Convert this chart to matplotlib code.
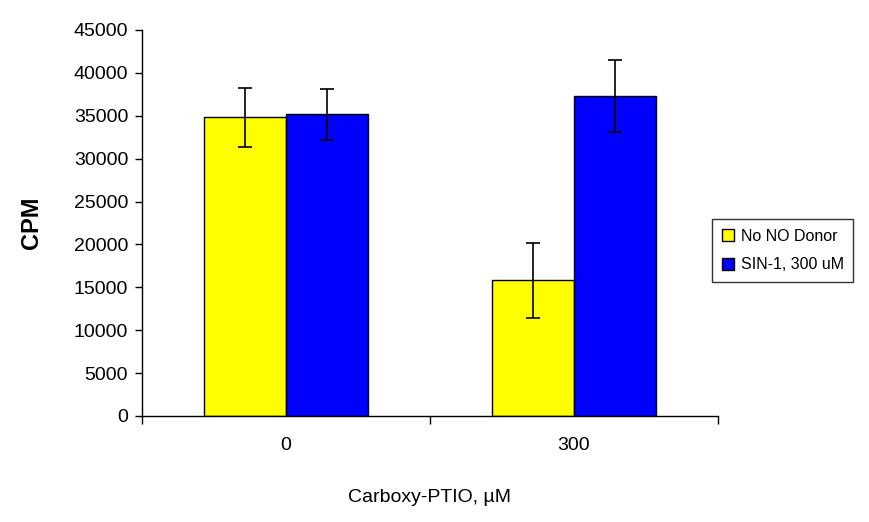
import matplotlib.pyplot as plt
import numpy as np

plt.rcParams['font.family'] = ['Liberation Sans', 'DejaVu Sans']

categories = ["0", "300"]
series_names = ["No NO Donor", "SIN-1, 300 uM"]
no_donor = [34800, 15800]
no_donor_err = [3450, 4350]
sin1 = [35150, 37300]
sin1_err = [2950, 4200]
colors = ["#ffff00", "#0000ff"]

fig = plt.figure(figsize=(8.69, 5.22), dpi=100)
ax = fig.add_axes([142 / 869, 1 - 416 / 522, (718 - 142) / 869, (416 - 30) / 522])

x = np.arange(len(categories))
w = 0.285
ax.bar(x - w / 2, no_donor, w, color=colors[0], edgecolor="black", linewidth=1,
       yerr=no_donor_err, capsize=5, error_kw=dict(elinewidth=1.2, capthick=1.2),
       label=series_names[0])
ax.bar(x + w / 2, sin1, w, color=colors[1], edgecolor="black", linewidth=1,
       yerr=sin1_err, capsize=5, error_kw=dict(elinewidth=1.2, capthick=1.2),
       label=series_names[1])

ax.set_xlim(-0.5, 1.5)
ax.set_ylim(0, 45000)
ax.set_yticks(np.arange(0, 45001, 5000))
ax.tick_params(axis="y", labelsize=14, length=5, width=1, pad=5)

# ticks between categories, labels at centers
ax.set_xticks([-0.5, 0.5, 1.5])
ax.set_xticklabels([])
ax.tick_params(axis="x", which="major", length=6, width=1)
ax.set_xticks(x, minor=True)
ax.set_xticklabels(categories, minor=True)
ax.tick_params(axis="x", which="minor", length=0, labelsize=14, pad=15)

for s in ["top", "right"]:
    ax.spines[s].set_visible(False)
for s in ["left", "bottom"]:
    ax.spines[s].set_linewidth(1)

ax.set_ylabel("CPM", fontsize=17, fontweight="bold", labelpad=22)
ax.set_xlabel("Carboxy-PTIO, µM", fontsize=14, labelpad=25)

fig.legend(loc="upper left", bbox_to_anchor=(712 / 869, 1 - 219 / 522),
           fontsize=11.5, frameon=True, fancybox=False, edgecolor="black",
           handlelength=0.8, handleheight=0.8, handletextpad=0.4,
           borderpad=0.6, labelspacing=0.85, borderaxespad=0)

fig.savefig("out.png", dpi=100)
